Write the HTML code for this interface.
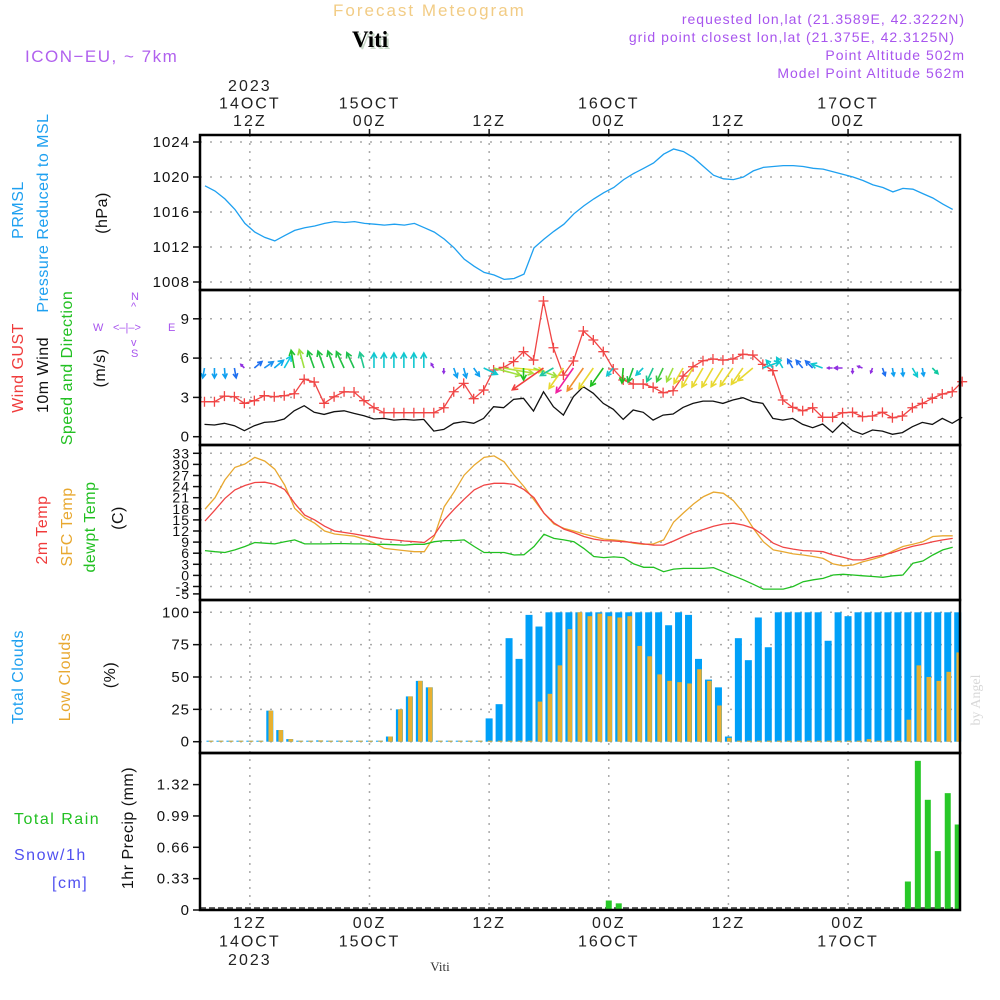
<!DOCTYPE html>
<html><head><meta charset="utf-8">
<style>
html,body{margin:0;padding:0;background:#fff;}
svg{display:block;font-family:"Liberation Sans",sans-serif;}
</style></head>
<body>
<svg id="chart" width="1000" height="1000" viewBox="0 0 1000 1000" xmlns="http://www.w3.org/2000/svg">
<rect x="0" y="0" width="1000" height="1000" fill="#fff"/>
<text x="333" y="16" font-size="17" fill="#f2cc85" letter-spacing="2">Forecast Meteogram</text>
<text x="354" y="49" font-size="23" font-weight="bold" font-family="Liberation Serif,serif" fill="#c8d8c8">Viti</text>
<text x="352" y="47" font-size="23" font-weight="bold" font-family="Liberation Serif,serif" fill="#000">Viti</text>
<text x="25" y="62" font-size="17" fill="#b060ee" letter-spacing="1.5">ICON−EU, ~ 7km</text>
<g font-size="14" fill="#a855ee" text-anchor="end" letter-spacing="1">
<text x="965" y="24">requested lon,lat (21.3589E, 42.3222N)</text>
<text x="955" y="42">grid point closest lon,lat (21.375E, 42.3125N)</text>
<text x="965" y="60">Point Altitude 502m</text>
<text x="965" y="78">Model Point Altitude 562m</text>
</g>
<g id="grid"></g>
<g id="marks"></g>
<g id="frame"></g>
<g id="labels" font-size="16" fill="#222" text-anchor="middle" letter-spacing="2"></g>
<g font-size="16" letter-spacing="0.5">
<text transform="translate(23,210) rotate(-90)" text-anchor="middle" fill="#1ea0f0">PRMSL</text>
<text transform="translate(48,213) rotate(-90)" text-anchor="middle" fill="#1ea0f0">Pressure Reduced to MSL</text>
<text transform="translate(107,213) rotate(-90)" text-anchor="middle" fill="#111">(hPa)</text>
<text transform="translate(23,368) rotate(-90)" text-anchor="middle" fill="#f03c3c">Wind GUST</text>
<text transform="translate(48,375) rotate(-90)" text-anchor="middle" fill="#111">10m Wind</text>
<text transform="translate(72,368) rotate(-90)" text-anchor="middle" fill="#22c022">Speed and Direction</text>
<text transform="translate(105,368) rotate(-90)" text-anchor="middle" fill="#111">(m/s)</text>
<text transform="translate(47,530) rotate(-90)" text-anchor="middle" fill="#f03c3c">2m Temp</text>
<text transform="translate(72,527) rotate(-90)" text-anchor="middle" fill="#e8a830">SFC Temp</text>
<text transform="translate(95,527) rotate(-90)" text-anchor="middle" fill="#22c022">dewpt Temp</text>
<text transform="translate(123,518) rotate(-90)" text-anchor="middle" fill="#111">(C)</text>
<text transform="translate(23,677) rotate(-90)" text-anchor="middle" fill="#1ea0f0">Total Clouds</text>
<text transform="translate(70,677) rotate(-90)" text-anchor="middle" fill="#e8a830">Low Clouds</text>
<text transform="translate(115,675) rotate(-90)" text-anchor="middle" fill="#111">(%)</text>
<text x="14" y="824" fill="#22c022" letter-spacing="1.5">Total  Rain</text>
<text x="14" y="860" fill="#5050f0" letter-spacing="1.5">Snow/1h</text>
<text x="52" y="888" fill="#5050f0" letter-spacing="1.5">[cm]</text>
<text transform="translate(133,828) rotate(-90)" text-anchor="middle" fill="#111">1hr Precip (mm)</text>
</g>
<g font-size="11" fill="#a855ee">
<text x="131" y="300">N</text><text x="131" y="310">^</text>
<text x="93" y="331">W</text><text x="113" y="331">&lt;–|–&gt;</text>
<text x="168" y="331">E</text><text x="131" y="346">v</text><text x="131" y="357">S</text>
</g>
<text transform="translate(980,700) rotate(-90)" text-anchor="middle" font-size="14" font-family="Liberation Serif,serif" fill="#d8d8d8">by Angel</text>
<text x="440" y="971" text-anchor="middle" font-size="13" font-family="Liberation Serif,serif" fill="#333">Viti</text>
</svg>
<script>
// ---------- data ----------
const pressure = [1019.0,1018.4,1017.5,1016.3,1014.7,1013.7,1013.1,1012.7,1013.3,1013.9,1014.2,1014.4,1014.7,1014.9,1014.8,1014.9,1014.7,1014.6,1014.5,1014.6,1014.5,1014.7,1014.2,1013.7,1012.9,1011.9,1010.6,1009.8,1009.1,1008.8,1008.3,1008.4,1008.9,1011.9,1012.9,1013.8,1014.6,1015.8,1016.7,1017.5,1018.2,1018.8,1019.7,1020.4,1021.0,1021.6,1022.6,1023.2,1022.9,1022.2,1021.2,1020.2,1019.8,1019.7,1020.0,1020.7,1021.1,1021.2,1021.3,1021.3,1021.2,1021.0,1020.9,1020.6,1020.3,1020.0,1019.6,1019.1,1018.8,1018.3,1018.7,1018.6,1018.1,1017.6,1016.9,1016.3];
const pressureTicks = [1008,1012,1016,1020,1024];
const gust = [2.67,2.67,3.1,3.05,2.55,2.75,3.13,3.05,3.13,3.28,4.38,4.17,2.55,3.05,3.43,3.41,2.75,2.21,1.83,1.83,1.83,1.83,1.83,1.83,2.21,3.43,4.07,2.9,3.56,5.09,5.29,5.73,6.49,5.85,10.36,6.79,4.7,5.78,8.07,7.38,6.49,5.17,4.33,4.02,4.02,3.77,3.36,3.51,4.63,5.34,5.8,5.93,5.85,5.93,6.29,6.23,5.52,5.04,2.8,2.24,1.98,2.21,1.48,1.48,1.83,1.86,1.53,1.58,1.86,1.45,1.58,2.21,2.54,2.93,3.26,3.43,4.2];
const wind = [0.94,0.89,1.02,0.84,0.46,0.84,1.09,1.15,1.35,1.98,2.37,1.86,1.7,1.91,1.98,1.78,1.6,1.35,1.4,1.27,1.32,1.27,1.32,0.43,0.56,1.02,1.15,1.02,1.4,2.29,2.21,2.85,2.93,1.96,3.43,2.29,1.65,3.05,3.82,3.31,2.54,2.09,1.32,2.04,1.86,1.27,1.65,1.73,2.24,2.54,2.72,2.72,2.54,2.8,2.98,2.67,2.54,1.4,1.27,1.4,0.94,0.69,0.97,0.33,1.09,0.46,0.18,0.51,0.43,0.18,0.31,0.76,1.09,0.94,1.4,1.02,1.48];
const windTicks = [0,3,6,9];
const windDir = [190,180,175,170,315,50,55,50,30,350,345,340,340,340,335,335,345,0,0,0,0,0,0,330,180,160,165,145,115,105,100,95,180,110,235,240,215,215,215,215,215,220,185,200,225,205,205,205,210,210,210,210,212,215,215,230,70,320,330,330,320,315,290,270,270,180,290,200,160,170,175,150,170,135];
const windLen = [10,10,10,10,5,10,11,12,14,18,19,18,18,18,18,17,16,15,15,15,15,15,15,5,5,10,10,10,15,28,30,30,12,25,38,15,25,30,28,25,22,10,15,15,10,15,15,15,18,22,22,22,22,22,20,20,18,10,12,10,10,10,12,5,8,5,5,5,8,8,8,10,8,8];
const windColor = ["#10a0f0","#10a0f0","#10a0f0","#2070f0","#9030e0","#2070f0","#2090f0","#10a8f0","#10c8e0","#20c030","#a0e040","#20c040","#20c040","#20c040","#20c040","#20c050","#20c890","#10c8d0","#10c8d0","#10c8d0","#10c8d0","#10c8d0","#10c8d0","#9030e0","#9030e0","#10a0f0","#10a0f0","#10a0f0","#10c8d0","#a0e040","#b0e040","#e8e030","#20c020","#a0e040","#f04040","#20c8a0","#e8d830","#f020a0","#f09030","#e8d830","#20c020","#10c8d0","#20c020","#20c040","#10c8d0","#20c890","#40c840","#a0e040","#e8d830","#e8d830","#e8d830","#e8d830","#e8d830","#e8d830","#e8d830","#e8d830","#10c8d0","#10c8d0","#10c8d0","#2070f0","#2070f0","#2070f0","#10c8d0","#9030e0","#9030e0","#9030e0","#9030e0","#9030e0","#2070f0","#10a0f0","#10a0f0","#10c8d0","#10a0f0","#10c8a0"];
const temp2m = [14.7,17.7,20.8,23.1,24.3,25.1,25.2,24.6,23.2,19.5,16.3,15.0,13.3,12.0,11.6,11.2,10.7,10.3,9.8,9.6,9.3,9.1,8.9,10.9,15.0,17.9,20.6,23.1,24.4,24.9,24.9,24.6,23.2,21.0,16.8,14.2,12.5,11.6,10.5,9.8,9.4,9.3,9.1,8.9,8.5,8.2,8.2,9.3,10.5,11.6,12.4,13.3,13.9,14.1,13.6,12.7,10.9,8.7,7.6,7.1,6.7,6.6,6.4,5.5,4.9,4.2,4.2,4.9,5.5,6.2,7.1,7.9,8.4,9.1,9.6,10.0];
const tempSfc = [17.9,21.0,25.8,29.2,30.1,31.9,30.9,28.7,24.4,18.1,15.6,14.1,12.0,11.2,10.9,10.6,9.8,8.7,7.3,7.0,6.7,6.4,6.4,10.5,18.6,22.6,27.1,29.8,31.9,32.3,30.7,27.1,24.0,20.4,16.8,13.9,12.7,12.0,11.2,10.5,9.8,9.6,9.3,8.7,8.4,8.5,9.6,14.4,16.9,19.3,21.3,22.5,22.2,20.2,16.9,12.7,9.1,6.9,6.4,5.8,5.5,5.1,4.6,3.1,2.6,2.8,3.7,4.4,5.2,6.6,7.8,8.4,9.1,10.5,10.7,10.7];
const dewpt = [6.7,6.4,6.2,6.9,7.8,8.9,8.7,8.5,9.1,9.6,8.5,8.5,8.5,8.6,8.6,8.5,8.5,8.4,8.4,8.3,8.2,8.4,8.4,9.1,9.4,9.4,9.6,7.8,6.2,6.2,6.2,5.5,5.6,7.8,11.1,10.0,9.6,9.1,7.3,5.1,4.8,5.0,4.8,3.1,2.2,2.2,1.0,1.7,1.9,1.9,1.9,2.1,1.0,-0.1,-1.2,-2.4,-3.7,-3.7,-3.7,-3.0,-1.7,-1.2,-0.8,0.1,0.3,0.1,-0.1,-0.3,-0.5,-0.1,0.1,3.3,3.9,5.5,6.9,7.6];
const tempTicks = [-5,-3,0,3,6,9,12,15,18,21,24,27,30,33];
const totalClouds = [0,0,0,0,0,0,24,9,2,0,0,1,0,0,0,0,0,0,4,25,35,47,42,0,0,0,0,0,18,29,80,64,98,89,100,100,100,100,100,100,100,100,100,100,100,100,90,100,98,64,48,42,4,80,63,96,73,100,100,100,100,100,78,100,97,100,100,100,100,100,100,100,100,100,100,100];
const lowClouds = [0,0,0,0,0,0,24,9,2,0,0,1,0,0,0,0,0,0,4,25,35,47,42,0,0,0,0,0,0,0,0,0,0,31,37,59,87,100,97,99,97,96,97,74,66,52,47,46,45,56,47,28,3,0,0,0,0,0,0,0,0,0,0,0,0,0,2,0,0,0,17,59,50,47,54,69];
const cloudTicks = [0,25,50,75,100];
const precip = [0,0,0,0,0,0,0,0,0,0,0,0,0,0,0,0,0,0,0,0,0,0,0,0,0,0,0,0,0,0,0,0,0,0,0,0,0,0,0,0,0.1,0.07,0,0,0,0,0,0,0,0,0,0,0,0,0,0,0,0,0,0,0,0,0,0,0,0,0,0,0,0,0.3,1.57,1.16,0.62,1.23,0.9];
const precipTicks = [0,0.33,0.66,0.99,1.32];
const gridHours = [5,17,29,41,53,65];
const topTime = [["2023\n14OCT\n12Z"],["15OCT\n00Z"],["12Z"],["16OCT\n00Z"],["12Z"],["17OCT\n00Z"]];
const bottomTime = [["12Z\n14OCT\n2023"],["00Z\n15OCT"],["12Z"],["00Z\n16OCT"],["12Z"],["00Z\n17OCT"]];

// ---------- scales ----------
const X0=200, X1=960;
const xOf = h => 200 + 9.97*h;
const yP = p => 142 + (1024-p)*8.75;
const yW = v => 436.7 - 13.1*v;
const yT = t => 575.4 - 3.7*t;
const yC = c => 741.7 - 1.294*c;
const yR = r => 910 - 95*r;
const panels = [[135,290],[290,445],[445,600],[600,753],[753,910]];

const NS="http://www.w3.org/2000/svg";
function mk(tag, attrs, parent){const e=document.createElementNS(NS,tag);for(const k in attrs)e.setAttribute(k,attrs[k]);parent.appendChild(e);return e;}
const grid=document.getElementById('grid'), marks=document.getElementById('marks'), frame=document.getElementById('frame'), labels=document.getElementById('labels');

gridHours.forEach(h=>{
  const g=mk('line',{x1:xOf(h),x2:xOf(h),y1:135,y2:910,stroke:'#aaa','stroke-width':1.5,'stroke-dasharray':'2,6'},grid);
  
  
});
function hgrid(vals, fy, name){
  vals.forEach(v=>{
    const l=mk('line',{x1:X0,x2:X1,y1:fy(v),y2:fy(v),stroke:'#aaa','stroke-width':1.5,'stroke-dasharray':'2,8'},grid);
    
    
  });
}
hgrid(pressureTicks,yP,'pressure-gridline');
hgrid(windTicks,yW,'wind-gridline');
hgrid(tempTicks.filter(t=>t>-5),yT,'temp-gridline');
hgrid(cloudTicks,yC,'cloud-gridline');

function yticks(vals, fy, name, fmt, fs){
  vals.forEach(v=>{
    const y=fy(v);
    const t=mk('text',{x:190,y:y+5,'text-anchor':'end','font-size':fs||15,fill:'#111','letter-spacing':1},frame);
    t.textContent=fmt?fmt(v):String(v);
    
    
    mk('line',{x1:193,x2:200,y1:y,y2:y,stroke:'#111','stroke-width':1.5},frame);
  });
}
yticks(pressureTicks,yP,'pressure-tick-label');
yticks(windTicks,yW,'wind-tick-label');
yticks(tempTicks,yT,'temp-tick-label',null,14);
yticks(cloudTicks,yC,'cloud-tick-label');
yticks(precipTicks,yR,'precip-tick-label',v=>v===0?'0':v.toFixed(2));

function line(vals, fy, off, color, name, w){
  const pts=vals.map((v,i)=>xOf(i+off).toFixed(1)+','+fy(v).toFixed(1)).join(' ');
  const p=mk('polyline',{points:pts,fill:'none',stroke:color,'stroke-width':w||1.3},marks);
  
  
  return p;
}
line(pressure,yP,0.5,'#1ea0f0','pressure-line');
line(wind,yW,0.45,'#111','wind-speed-line');
line(gust,yW,0.45,'#f04545','gust-line');
gust.forEach((v,i)=>{
  const x=xOf(i+0.45), y=yW(v);
  const g=mk('path',{d:`M${x-5},${y}H${x+5}M${x},${y-5}V${y+5}`,stroke:'#f04545','stroke-width':1.3},marks);
  
  
});
windDir.forEach((d,i)=>{
  const x=xOf(i+0.45), y=368, L=windLen[i], r=d*Math.PI/180;
  const tx=x+L*Math.sin(r), ty=y-L*Math.cos(r);
  const hl=Math.min(6,L*0.5), a1=r+Math.PI-0.5, a2=r+Math.PI+0.5;
  const dpath=`M${x},${y}L${tx},${ty}M${tx+hl*Math.sin(a1)},${ty-hl*Math.cos(a1)}L${tx},${ty}L${tx+hl*Math.sin(a2)},${ty-hl*Math.cos(a2)}`;
  const a=mk('path',{d:dpath,fill:'none',stroke:windColor[i],'stroke-width':1.6},marks);
  
  
});
line(tempSfc,yT,0.5,'#e8a830','sfc-temp-line');
line(temp2m,yT,0.5,'#f04545','temp-2m-line');
line(dewpt,yT,0.5,'#22c022','dewpt-line');
totalClouds.forEach((c,i)=>{
  const x=xOf(i+1), y=yC(c);
  const b=mk('rect',{x:x-3.5,y:Math.min(y,yC(0)-1),width:7,height:Math.max(yC(0)-y,1),fill:'#00a0f8'},marks);
  
  
});
lowClouds.forEach((c,i)=>{
  const x=xOf(i+1), y=yC(c);
  const b=mk('rect',{x:x-1.3,y:Math.min(y,yC(0)-1),width:4.5,height:Math.max(yC(0)-y,1),fill:'#e8b030'},marks);
  
  
});
mk('line',{x1:X0,x2:X1,y1:908,y2:908,stroke:'#333','stroke-width':1.5,'stroke-dasharray':'6,3'},grid);
precip.forEach((r,i)=>{
  if(r<=0) return;
  const x=xOf(i+1), y=yR(r);
  const b=mk('rect',{x:x-3,y:y,width:6,height:yR(0)-y,fill:'#28c828'},marks);
  
  
});
panels.forEach((p,k)=>{
  const r=mk('rect',{x:X0,y:p[0],width:X1-X0,height:p[1]-p[0],fill:'none',stroke:'#000','stroke-width':2.5},frame);
  
  
});
gridHours.forEach((h,k)=>{
  const x=xOf(h);
  mk('line',{x1:x,x2:x,y1:129,y2:135,stroke:'#111','stroke-width':1.5},frame);
  const tl=topTime[k][0].split('\n');
  tl.forEach((s,j)=>{
    const t=mk('text',{x:x,y:126-(tl.length-1-j)*17.5},labels);
    t.textContent=s;
    
    
  });
  const bl=bottomTime[k][0].split('\n');
  bl.forEach((s,j)=>{
    const t=mk('text',{x:x,y:928+j*18.5},labels);
    t.textContent=s;
    
    
  });
});
</script>
</body></html>
